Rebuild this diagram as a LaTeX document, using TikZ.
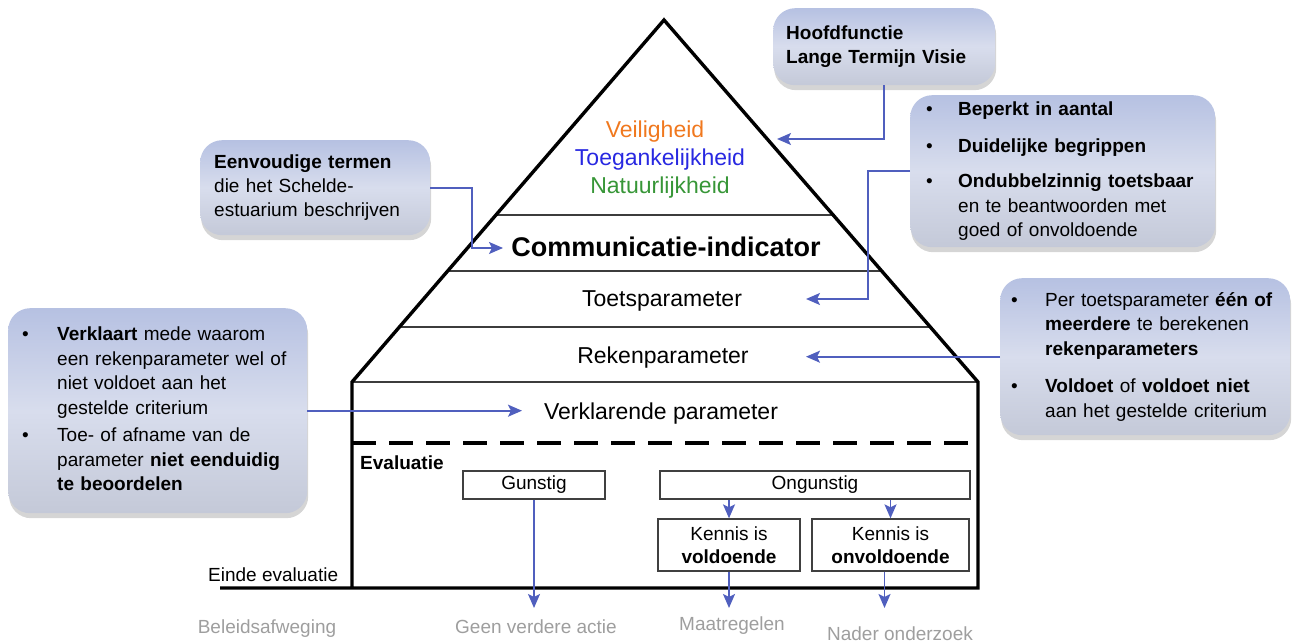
\documentclass[tikz,border=0pt]{standalone}
\usepackage{fontspec}
\setmainfont{Liberation Sans}
\usetikzlibrary{calc,shadows,arrows.meta}

\definecolor{conncol}{RGB}{80,95,190}
\definecolor{boxtop}{RGB}{182,193,226}
\definecolor{boxmid}{RGB}{216,221,237}
\definecolor{boxbot}{RGB}{196,201,216}
\definecolor{veilcol}{RGB}{240,120,30}
\definecolor{toegcol}{RGB}{40,40,225}
\definecolor{natucol}{RGB}{55,150,55}
\definecolor{greytext}{RGB}{158,158,158}
\definecolor{sepcol}{RGB}{60,60,60}

\tikzset{
  outline/.style={draw=black, line width=3.4pt, line join=miter},
  sepline/.style={draw=sepcol, line width=2pt},
  dashline/.style={draw=black, line width=4pt, dash pattern=on 24pt off 13pt},
  ptext/.style={font=\fontsize{23}{26}\selectfont, inner sep=0pt, anchor=base},
  ebox/.style={draw=black!75, line width=1.3pt, inner sep=2pt, align=center,
               font=\fontsize{19}{23.5}\selectfont},
  gtext/.style={text=greytext, font=\fontsize{19}{22}\selectfont, inner sep=0pt, anchor=base},
  conn/.style={draw=conncol, line width=1.8pt,
               -{Stealth[length=14pt,width=12pt,inset=3pt,fill=conncol]}},
  callout/.style={rounded corners=22pt, top color=boxtop, bottom color=boxbot,
                  middle color=boxmid, anchor=north west, align=left,
                  drop shadow={opacity=0.3, shadow xshift=1pt, shadow yshift=-5pt, fill=black!55},
                  font=\fontsize{19}{24.5}\selectfont, inner ysep=3pt}
}

\begin{document}
\begin{tikzpicture}[x=1pt,y=-1pt]
\useasboundingbox (0,0) rectangle (1293,644);

% ---------- pyramid ----------
\coordinate (apex) at (664,20);
\coordinate (bl) at (352,382);
\coordinate (br) at (978,382);
\coordinate (fl) at (352,588);
\coordinate (fr) at (978,588);
\coordinate (ee) at (220,588);

\foreach \t in {0.5387,0.6934,0.8481}
  \draw[sepline] ($(apex)!\t!(bl)$) -- ($(apex)!\t!(br)$);
\draw[sepline] (bl) -- (br);
\draw[dashline] (352,443) -- (978,443);
\draw[outline] (ee) -- (fr) -- (br) -- (apex) -- (bl) -- (fl);

% ---------- pyramid texts ----------
\node[ptext, text=veilcol] (veil) at (655,138) {Veiligheid};
\node[ptext, text=toegcol] (toeg) at (660,166) {Toegankelijkheid};
\node[ptext, text=natucol] (natu) at (660,194) {Natuurlijkheid};
\node[ptext, font=\fontsize{27}{30}\selectfont\bfseries] (comm) at (666,257) {Communicatie-indicator};
\node[ptext] (toets) at (662,307) {Toetsparameter};
\node[ptext] (reken) at (663,363) {Rekenparameter};
\node[ptext] (verk) at (661,419) {Verklarende parameter};

% ---------- evaluation ----------
\node[font=\fontsize{19}{22}\selectfont\bfseries, anchor=base west, inner sep=0pt] (eval) at (360,469) {Evaluatie};
\node[ebox, minimum width=142pt, minimum height=28pt] (gun) at (534,485) {Gunstig};
\node[ebox, minimum width=310pt, minimum height=28pt] (ong) at (815,485) {Ongunstig};
\node[ebox, minimum width=142pt, minimum height=52pt] (kv) at (729,545) {Kennis is\\\textbf{voldoende}};
\node[ebox, minimum width=157pt, minimum height=52pt] (ko) at (890.5,545) {Kennis is\\\textbf{onvoldoende}};

\node[font=\fontsize{19}{22}\selectfont, anchor=base west, inner sep=0pt] (einde) at (208,581) {Einde evaluatie};

\node[gtext] (bel) at (267,633) {Beleidsafweging};
\node[gtext] (geen) at (536,633) {Geen verdere actie};
\node[gtext] (maat) at (732,630) {Maatregelen};
\node[gtext] (nader) at (900,640) {Nader onderzoek};

\coordinate (tg) at (534,608);
\coordinate (tv) at (731,608);
\coordinate (to) at (884,608);
\draw[conn] (gun.south) -- (gun.south |- tg);
\draw[conn] (ong.south -| kv.north) -- (kv.north);
\draw[conn] (ong.south -| ko.north) -- (ko.north);
\draw[conn] (kv.south) -- (kv.south |- tv);
\draw[conn] ([xshift=-6pt]ko.south) -- ([xshift=-6pt]ko.south |- to);

% ---------- callouts ----------
\node[callout, minimum width=222pt, minimum height=77pt, text width=196pt, inner xsep=13pt] (hoof) at (773,8)
  {\fontsize{19}{24}\selectfont\textbf{Hoofdfunctie}\\\textbf{Lange Termijn Visie}};

\node[callout, minimum width=230pt, minimum height=95pt, text width=202pt, inner xsep=14pt] (eb) at (200,140)
  {\fontsize{19}{23.5}\selectfont\textbf{Eenvoudige termen}\\die het Schelde-\\estuarium beschrijven};

\node[callout, minimum width=305pt, minimum height=152pt, text width=273pt, inner xsep=16pt] (rb1) at (910,95)
  {\noindent\begin{tabular}{@{}p{32pt}@{}l@{}}
   \textbullet & \textbf{Beperkt in aantal}\\[12pt]
   \textbullet & \textbf{Duidelijke begrippen}\\[11pt]
   \textbullet & \textbf{Ondubbelzinnig toetsbaar}\\
               & en te beantwoorden met\\
               & goed of onvoldoende
   \end{tabular}};

\node[callout, minimum width=290pt, minimum height=157pt, text width=268pt, inner xsep=11pt] (rb2) at (1000,278)
  {\noindent\begin{tabular}{@{}p{34pt}@{}l@{}}
   \textbullet & Per toetsparameter \textbf{één of}\\
               & \textbf{meerdere} te berekenen\\
               & \textbf{rekenparameters}\\[13pt]
   \textbullet & \textbf{Voldoet} of \textbf{voldoet niet}\\
               & aan het gestelde criterium
   \end{tabular}};

\node[callout, minimum width=299pt, minimum height=205pt, text width=271pt, inner xsep=14pt] (lb) at (8,308)
  {\noindent\begin{tabular}{@{}p{35pt}@{}l@{}}
   \textbullet & \textbf{Verklaart} mede waarom\\
               & een rekenparameter wel of\\
               & niet voldoet aan het\\
               & gestelde criterium\\[3pt]
   \textbullet & Toe- of afname van de\\
               & parameter \textbf{niet eenduidig}\\
               & \textbf{te beoordelen}
   \end{tabular}};

% ---------- connectors ----------
\coordinate (t1) at (777,139);
\draw[conn] (hoof.south) |- (t1);

\coordinate (k2) at (868,299);
\coordinate (t2) at (806,299);
\draw[conn] (rb1.west) -| (k2) -- (t2);

\coordinate (k3) at (472,248);
\coordinate (t3) at (503,248);
\draw[conn] (eb.east) -| (k3) -- (t3);

\coordinate (t4) at (522,411);
\draw[conn] (lb.east) -- (lb.east -| t4);

\coordinate (t5) at (806,357);
\draw[conn] (rb2.west) -- (rb2.west -| t5);
\end{tikzpicture}
\end{document}
